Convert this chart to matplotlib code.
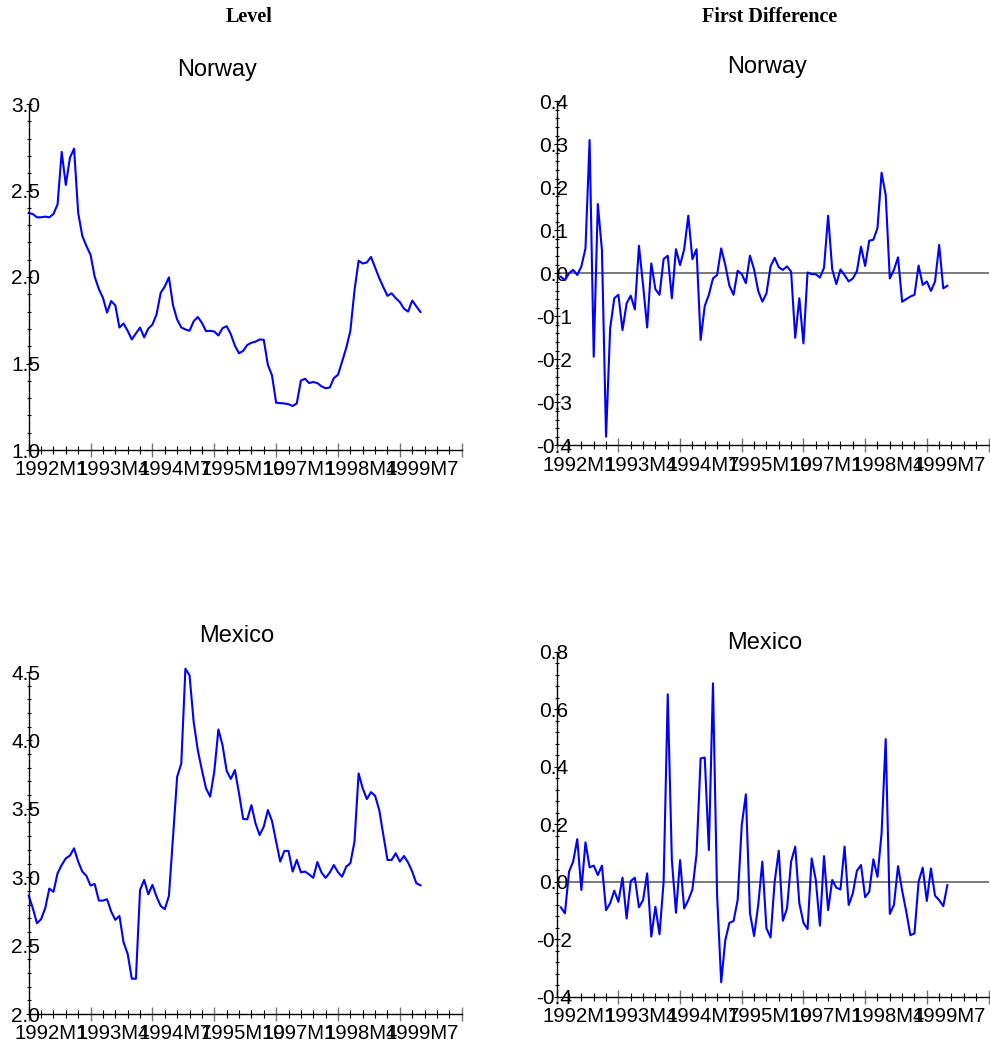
import numpy as np
import matplotlib.pyplot as plt
from matplotlib.ticker import FixedLocator, MultipleLocator, FormatStrFormatter

plt.rcParams['font.family'] = ['Liberation Sans', 'DejaVu Sans']

# monthly data, 1992M1 .. 1999M12
norway_level = [
    2.370, 2.364, 2.345, 2.345, 2.349, 2.345, 2.364, 2.420, 2.723, 2.532,
    2.689, 2.742, 2.370, 2.237, 2.179, 2.128, 2.002, 1.931, 1.880, 1.794,
    1.861, 1.836, 1.708, 1.731, 1.689, 1.639, 1.674, 1.708, 1.651, 1.702,
    1.725, 1.784, 1.908, 1.945, 1.998, 1.836, 1.754, 1.708, 1.697, 1.689,
    1.744, 1.769, 1.735, 1.687, 1.689, 1.685, 1.662, 1.704, 1.716, 1.670,
    1.603, 1.559, 1.573, 1.607, 1.620, 1.626, 1.639, 1.637, 1.492, 1.431,
    1.273, 1.271, 1.269, 1.265, 1.254, 1.269, 1.401, 1.412, 1.387, 1.393,
    1.387, 1.368, 1.357, 1.361, 1.416, 1.435, 1.511, 1.590, 1.689, 1.922,
    2.094, 2.078, 2.084, 2.116, 2.055, 1.994, 1.941, 1.891, 1.906, 1.878,
    1.855, 1.817, 1.800, 1.864, 1.830, 1.798,
]

# 1992M2 .. 1999M12
norway_diff = [
    -0.008, -0.016, 0.000, 0.008, -0.004, 0.016, 0.058, 0.310, -0.194, 0.161,
    0.054, -0.380, -0.128, -0.058, -0.050, -0.132, -0.070, -0.052, -0.084, 0.064,
    -0.027, -0.126, 0.023, -0.037, -0.050, 0.033, 0.041, -0.058, 0.056, 0.019,
    0.056, 0.134, 0.033, 0.056, -0.155, -0.076, -0.050, -0.012, -0.004, 0.058,
    0.019, -0.029, -0.050, 0.006, -0.002, -0.023, 0.041, 0.009, -0.041, -0.066,
    -0.047, 0.016, 0.036, 0.014, 0.008, 0.016, 0.004, -0.150, -0.058, -0.163,
    0.002, -0.002, -0.002, -0.010, 0.013, 0.134, 0.009, -0.025, 0.009, -0.004,
    -0.019, -0.012, 0.005, 0.062, 0.017, 0.076, 0.078, 0.105, 0.234, 0.182,
    -0.012, 0.008, 0.037, -0.066, -0.060, -0.054, -0.050, 0.018, -0.027, -0.019,
    -0.041, -0.019, 0.066, -0.035, -0.029,
]

mexico_level = [
    2.866, 2.773, 2.664, 2.693, 2.773, 2.917, 2.893, 3.029, 3.089, 3.138,
    3.158, 3.211, 3.114, 3.041, 3.009, 2.939, 2.951, 2.829, 2.829, 2.839,
    2.749, 2.688, 2.717, 2.523, 2.440, 2.258, 2.258, 2.907, 2.980, 2.875,
    2.944, 2.858, 2.790, 2.766, 2.863, 3.296, 3.734, 3.831, 4.524, 4.476,
    4.136, 3.929, 3.783, 3.649, 3.589, 3.771, 4.080, 3.965, 3.778, 3.718,
    3.783, 3.613, 3.426, 3.423, 3.527, 3.393, 3.308, 3.369, 3.491, 3.411,
    3.260, 3.114, 3.192, 3.192, 3.041, 3.126, 3.036, 3.041, 3.021, 2.995,
    3.111, 3.034, 2.995, 3.034, 3.089, 3.036, 3.004, 3.077, 3.102, 3.260,
    3.758, 3.649, 3.571, 3.622, 3.595, 3.491, 3.308, 3.126, 3.126, 3.175,
    3.114, 3.155, 3.107, 3.041, 2.956, 2.941,
]

mexico_diff = [
    -0.089, -0.110, 0.035, 0.070, 0.148, -0.029, 0.137, 0.050, 0.056, 0.023,
    0.056, -0.099, -0.075, -0.031, -0.070, 0.014, -0.128, 0.002, 0.014, -0.089,
    -0.064, 0.029, -0.191, -0.087, -0.183, 0.000, 0.652, 0.075, -0.108, 0.075,
    -0.093, -0.064, -0.027, 0.095, 0.429, 0.432, 0.110, 0.690, -0.046, -0.350,
    -0.203, -0.143, -0.137, -0.064, 0.197, 0.304, -0.110, -0.189, -0.081, 0.070,
    -0.162, -0.194, 0.000, 0.108, -0.136, -0.093, 0.070, 0.122, -0.075, -0.143,
    -0.165, 0.081, 0.006, -0.153, 0.089, -0.099, 0.006, -0.021, -0.027, 0.122,
    -0.081, -0.041, 0.038, 0.058, -0.054, -0.035, 0.078, 0.017, 0.168, 0.496,
    -0.112, -0.081, 0.054, -0.031, -0.104, -0.186, -0.180, 0.000, 0.049, -0.067,
    0.046, -0.049, -0.064, -0.085, -0.012,
]

date_labels = ['1992M1', '1993M4', '1994M7', '1995M10', '1997M1', '1998M4', '1999M7']
label_months = [0, 15, 30, 45, 60, 75, 90]

W, H = 990, 1048
fig = plt.figure(figsize=(W / 100, H / 100), dpi=100)


def px_axes(x0, y0, x1, y1):
    return fig.add_axes([x0 / W, 1 - y1 / H, (x1 - x0) / W, (y1 - y0) / H])


def style(ax, yticks, yminor):
    ax.set_xlim(0, 105)
    ax.set_ylim(yticks[0], yticks[-1])
    for s in ['top', 'right']:
        ax.spines[s].set_visible(False)
    for s in ['left', 'bottom']:
        ax.spines[s].set_linewidth(1.0)
    ax.xaxis.set_major_locator(MultipleLocator(15))
    ax.xaxis.set_minor_locator(MultipleLocator(3))
    ax.yaxis.set_major_locator(FixedLocator(yticks))
    ax.yaxis.set_minor_locator(MultipleLocator(yminor))
    ax.yaxis.set_major_formatter(FormatStrFormatter('%.1f'))
    ax.tick_params(axis='x', which='major', direction='inout', length=10,
                   width=1.0, color='#777777', labelbottom=False)
    ax.tick_params(axis='x', which='minor', direction='inout', length=5.5,
                   width=0.8, color='black')
    ax.tick_params(axis='y', which='major', direction='inout', length=5,
                   width=0.8, pad=-0.3, labelsize=15)
    ax.tick_params(axis='y', which='minor', direction='inout', length=3.5,
                   width=0.8)
    plt.setp(ax.get_yticklabels(), ha='center')
    for m, lab in zip(label_months, date_labels):
        ax.annotate(lab, xy=(m, 0), xycoords=ax.get_xaxis_transform(),
                    xytext=(-10, -7.5), textcoords='offset points',
                    ha='left', va='top', fontsize=14.6, annotation_clip=False)


months = np.arange(len(norway_level))
months_d = np.arange(1, len(norway_level))

ax1 = px_axes(28.7, 104, 461.7, 450)
ax1.plot(months, norway_level, color='#0000ff', lw=1.5, clip_on=False)
style(ax1, [1.0, 1.5, 2.0, 2.5, 3.0], 0.1)

ax2 = px_axes(556.7, 101.3, 988.5, 445.3)
ax2.axhline(0, color='#555555', lw=1.1, zorder=1)
ax2.plot(months_d, norway_diff, color='#0000ff', lw=1.5, clip_on=False)
style(ax2, [-0.4, -0.3, -0.2, -0.1, 0.0, 0.1, 0.2, 0.3, 0.4], 0.02)

ax3 = px_axes(28.7, 672, 461.7, 1014)
ax3.plot(months, mexico_level, color='#0000ff', lw=1.5, clip_on=False)
style(ax3, [2.0, 2.5, 3.0, 3.5, 4.0, 4.5], 0.1)

ax4 = px_axes(556.7, 651.7, 988.5, 996.7)
ax4.axhline(0, color='#555555', lw=1.1, zorder=1)
ax4.plot(months_d, mexico_diff, color='#0000ff', lw=1.5, clip_on=False)
style(ax4, [-0.4, -0.2, 0.0, 0.2, 0.4, 0.6, 0.8], 0.04)

serif = ['Liberation Serif', 'DejaVu Serif']
fig.text(249 / W, 1 - 17 / H, 'Level', family=serif, fontweight='bold',
         fontsize=14.5, ha='center', va='center')
fig.text(770 / W, 1 - 17 / H, 'First Difference', family=serif,
         fontweight='bold', fontsize=14.5, ha='center', va='center')

fig.text(217 / W, 1 - 70 / H, 'Norway', fontsize=17, ha='center', va='center')
fig.text(767 / W, 1 - 67 / H, 'Norway', fontsize=17, ha='center', va='center')
fig.text(237 / W, 1 - 636 / H, 'Mexico', fontsize=17, ha='center', va='center')
fig.text(765 / W, 1 - 643 / H, 'Mexico', fontsize=17, ha='center', va='center')

fig.savefig('out.png', dpi=100)
